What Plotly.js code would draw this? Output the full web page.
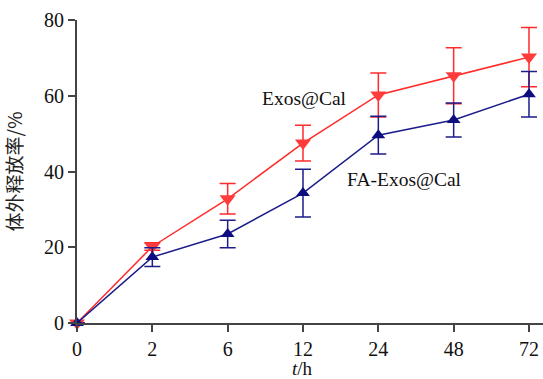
<!DOCTYPE html>
<html><head><meta charset="utf-8">
<script src="https://cdn.plot.ly/plotly-3.0.1.min.js"></script>
<style>html,body{margin:0;padding:0;background:#fff;}#chart{width:543px;height:379px;}</style>
</head><body><div id="chart"></div>
<script>
const categories = ["0", "2", "6", "12", "24", "48", "72"];
const exosCal = [0, 20.2, 32.8, 47.5, 60.2, 65.3, 70.2];
const exosCalErr = [0, 1.0, 4.0, 4.7, 5.8, 7.4, 7.8];
const faExosCal = [0, 17.4, 23.5, 34.3, 49.6, 53.6, 60.4];
const faExosCalErr = [0, 2.5, 3.6, 6.3, 5.0, 4.5, 6.0];
const labelExos = "Exos@Cal";
const labelFA = "FA-Exos@Cal";

const xs = categories.map((c, i) => i);
const serif = "Liberation Serif, Times New Roman, serif";

const traces = [
  {
    x: xs, y: exosCal, type: "scatter", mode: "lines+markers", name: labelExos,
    line: {color: "#ff2a2a", width: 1.5},
    marker: {symbol: "triangle-down", size: 14, color: "#ff3b3b", line: {width: 0}},
    error_y: {type: "data", array: exosCalErr, visible: true, color: "#ff2a2a", thickness: 1.5, width: 8},
    cliponaxis: false
  },
  {
    x: xs, y: faExosCal, type: "scatter", mode: "lines+markers", name: labelFA,
    line: {color: "#1c1c8a", width: 1.5},
    marker: {symbol: "triangle-up", size: 12, color: "#0d0d80", line: {width: 0}},
    error_y: {type: "data", array: faExosCalErr, visible: true, color: "#1c1c8a", thickness: 1.5, width: 8},
    cliponaxis: false
  }
];

const layout = {
  width: 543, height: 379,
  margin: {l: 77, r: 0, t: 20, b: 56},
  paper_bgcolor: "#fff", plot_bgcolor: "#fff",
  showlegend: false,
  font: {family: serif, size: 20, color: "#111"},
  xaxis: {
    range: [0, 6.186], tickmode: "array", tickvals: xs, ticktext: categories,
    showgrid: false, zeroline: false, showline: true, linecolor: "#444", linewidth: 2,
    ticks: "outside", ticklen: 7, tickwidth: 2, tickcolor: "#444",
    tickfont: {family: serif, size: 20, color: "#111"}
  },
  yaxis: {
    range: [0, 80], tickvals: [0, 20, 40, 60, 80],
    showgrid: false, zeroline: false, showline: true, linecolor: "#444", linewidth: 2,
    ticks: "outside", ticklen: 7, tickwidth: 2, tickcolor: "#444",
    tickfont: {family: serif, size: 20, color: "#111"},
    title: {text: "体外释放率/%", font: {family: "Noto Sans CJK SC, serif", size: 19, color: "#222"}, standoff: 18}
  },
  annotations: [
    {x: 3.02, y: 59.2, xref: "x", yref: "y", text: labelExos, showarrow: false,
     font: {family: serif, size: 19.5, color: "#111"}},
    {x: 4.35, y: 38.0, xref: "x", yref: "y", text: labelFA, showarrow: false,
     font: {family: serif, size: 19.5, color: "#111"}},
    {x: 3, y: 1, xref: "x", yref: "paper", yshift: -337, yanchor: "top", borderpad: 0, text: "<i>t</i>/h", showarrow: false,
     font: {family: serif, size: 19, color: "#111"}}
  ]
};

Plotly.newPlot("chart", traces, layout, {displayModeBar: false, staticPlot: true});
</script></body></html>
